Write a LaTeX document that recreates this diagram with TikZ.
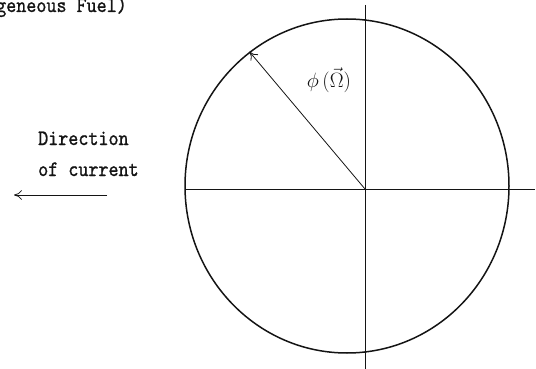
\documentclass[tikz,border=0pt]{standalone}
\usepackage{amsmath}
\usepackage{fontspec}
\usepackage{tikz}
\usetikzlibrary{arrows.meta,positioning,shapes.geometric}
\newfontfamily\fxmono{lmmono10-regular}[Extension=.otf, FakeStretch=0.87, FakeBold=1.0]
\definecolor{fxink}{RGB}{20,20,20}
\tikzset{
  fxaxis/.style={draw=fxink, line width=0.9pt},
  fxrim/.style={draw=fxink, line width=1.5pt, ellipse, inner sep=0pt},
  fxarr/.style={-{To[length=2.8mm,width=3.4mm]}, draw=fxink, line width=0.8pt},
  fxtxt/.style={font=\fontsize{22}{31}\fxmono, inner sep=0pt, text=fxink},
  fxlab/.style={font=\fontsize{20}{22}\selectfont, inner sep=0pt, text=fxink}
}
\begin{document}
\begin{tikzpicture}[x=1pt, y=-1pt]
  \useasboundingbox (0,0) rectangle (536,369);
  \clip (0,0) rectangle (536,369);

  % caption left over from the page above
  \node[fxtxt, anchor=base west] (cap) at (-4,12) {geneous Fuel)};

  % angular flux
  \node[fxrim, minimum width=324pt, minimum height=334pt] (rim) at (347,186) {};
  \coordinate (o) at (365,189);
  \coordinate (w) at (185,189);
  \coordinate (e) at (535,189);
  \coordinate (n) at (365,5);
  \coordinate (s) at (365,369);
  \draw[fxaxis] (w) -- (e);
  \draw[fxaxis] (n) -- (s);
  \draw[fxarr] (o) -- (rim.126);
  \node[fxlab] (phi) at (329,80) {$\phi\,(\vec{\Omega})$};

  % current
  \node[fxtxt, anchor=base west] (dir) at (38,145) {Direction};
  \node[fxtxt, below=31pt of dir.base west, anchor=base west] (cur) {of current};
  \coordinate (c0) at (107,195);
  \coordinate (c1) at (14,195);
  \draw[fxarr] (c0) -- (c1);
\end{tikzpicture}
\end{document}
